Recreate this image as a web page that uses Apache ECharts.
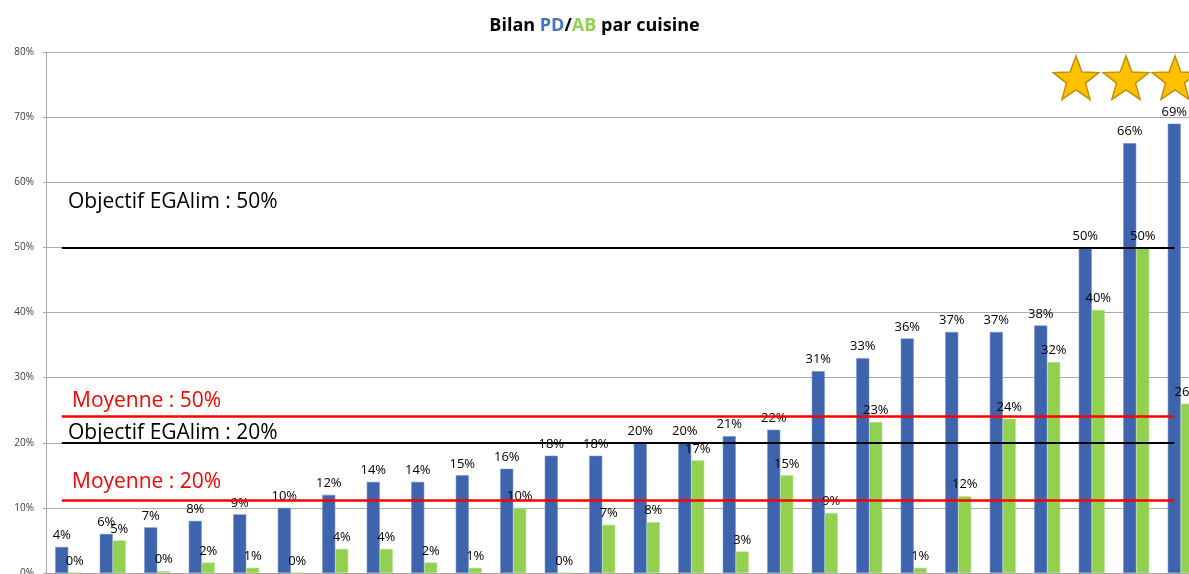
<!DOCTYPE html>
<html>
<head>
<meta charset="utf-8">
<script src="https://cdn.jsdelivr.net/npm/echarts@6/dist/echarts.min.js"></script>
<style>
  html, body { margin: 0; padding: 0; background: #fff; }
  #chart { width: 1189px; height: 574px; }
</style>
</head>
<body>
<div id="chart"></div>
<script>
// one entry per cuisine, sorted by PD share
const cuisines = Array.from({ length: 26 }, (_, i) => 'Cuisine ' + (i + 1))
const pdValues = [4, 6, 7, 8, 9, 10, 12, 14, 14, 15, 16, 18, 18, 20, 20, 21, 22, 31, 33, 36, 37, 37, 38, 50, 66, 69]
const abValues = [0, 5, 0.3, 1.6, 0.8, 0, 3.7, 3.7, 1.6, 0.8, 10, 0, 7.4, 7.8, 17.3, 3.3, 15, 9.2, 23.2, 0.8, 11.8, 23.7, 32.4, 40.4, 50, 26]
const abLabels = [0, 5, 0, 2, 1, 0, 4, 4, 2, 1, 10, 0, 7, 8, 17, 3, 15, 9, 23, 1, 12, 24, 32, 40, 50, 26]
const objectifs = [50, 20]
const moyennes = [24.1, 11.2]
const yTicks = [0, 10, 20, 30, 40, 50, 60, 70, 80]

const BLUE = '#3D64AD'
const GREEN = '#92D050'
const FONT = 'Open Sans'

/** 5-point star outline for the decoration in the top right corner */
function starPoints(cx, cy, R, r) {
  const pts = []
  for (let i = 0; i < 10; i++) {
    const rad = i % 2 === 0 ? R : r
    const a = -Math.PI / 2 + i * Math.PI / 5
    pts.push([cx + rad * Math.cos(a), cy + rad * Math.sin(a)])
  }
  return pts
}

function hLine(value, color, width) {
  return [
    { xAxis: 0, yAxis: value, lineStyle: { color, width, type: 'solid' } },
    { xAxis: cuisines.length - 1, yAxis: value },
  ]
}

const chart = echarts.init(document.getElementById('chart'))

const annotations = [
  { text: 'Objectif EGAlim : 50%', x: 68, y: 203, color: '#000' },
  { text: 'Moyenne : 50%', x: 72, y: 402, color: '#FF0000' },
  { text: 'Objectif EGAlim : 20%', x: 68, y: 434, color: '#000' },
  { text: 'Moyenne : 20%', x: 72, y: 483, color: '#FF0000' },
]

const stars = [1076, 1126, 1175]

chart.setOption({
  animation: false,
  backgroundColor: '#fff',
  title: {
    left: 'center',
    top: 12,
    text: '{a|Bilan }{b|PD}{a|/}{c|AB}{a| par cuisine}',
    textStyle: {
      rich: {
        a: { fontFamily: FONT, fontWeight: 'bold', fontSize: 18, color: '#000' },
        b: { fontFamily: FONT, fontWeight: 'bold', fontSize: 18, color: '#4472C4' },
        c: { fontFamily: FONT, fontWeight: 'bold', fontSize: 18, color: GREEN },
      },
    },
  },
  // the plot runs past the right edge of the picture, the last bar is cut
  grid: { left: 46, width: 1157, top: 52, bottom: 1, outerBoundsMode: 'none' },
  xAxis: {
    type: 'category',
    data: cuisines,
    axisLine: { lineStyle: { color: '#A6A6A6' } },
    axisTick: { show: false },
    axisLabel: { show: false },
  },
  yAxis: {
    type: 'value',
    min: yTicks[0],
    max: yTicks[yTicks.length - 1],
    interval: 10,
    axisLine: { show: true, lineStyle: { color: '#A6A6A6' } },
    axisTick: { show: true, length: 3, lineStyle: { color: '#A6A6A6' } },
    axisLabel: {
      margin: 12,
      fontFamily: FONT,
      fontSize: 10,
      color: '#404040',
      formatter: (v) => v + '%',
    },
    splitLine: { lineStyle: { color: '#ABABAB', width: 1 } },
  },
  series: [
    {
      name: 'PD',
      type: 'bar',
      data: pdValues,
      barWidth: 13,
      barGap: '0%',
      itemStyle: { color: BLUE, borderColor: '#6F8FCB', borderWidth: 0.6 },
      label: {
        show: true,
        position: 'top',
        distance: 5,
        fontFamily: FONT,
        fontSize: 13,
        color: '#000',
        formatter: '{c}%',
      },
      markLine: {
        silent: true,
        symbol: 'none',
        label: { show: false },
        z: 10,
        data: [
          ...objectifs.map((v) => hLine(v, '#000', 2)),
          ...moyennes.map((v) => hLine(v, '#FF0000', 2.5)),
        ],
      },
    },
    {
      name: 'AB',
      type: 'bar',
      data: abValues,
      barWidth: 13,
      itemStyle: { color: GREEN, borderColor: '#B5E08C', borderWidth: 0.6 },
      label: {
        show: true,
        position: 'top',
        distance: 5,
        fontFamily: FONT,
        fontSize: 13,
        color: '#000',
        formatter: (p) => abLabels[p.dataIndex] + '%',
      },
    },
  ],
  graphic: [
    ...annotations.map((a) => ({
      type: 'text',
      left: a.x,
      top: a.y - 11,
      z: 20,
      style: {
        text: a.text,
        fill: a.color,
        fontFamily: FONT,
        fontSize: 21,
      },
    })),
    ...stars.map((cx) => ({
      type: 'polygon',
      z: 20,
      shape: { points: starPoints(cx, 80, 24, 10) },
      style: { fill: '#FFC000', stroke: '#BF9000', lineWidth: 1.5 },
    })),
  ],
})
</script>
</body>
</html>
